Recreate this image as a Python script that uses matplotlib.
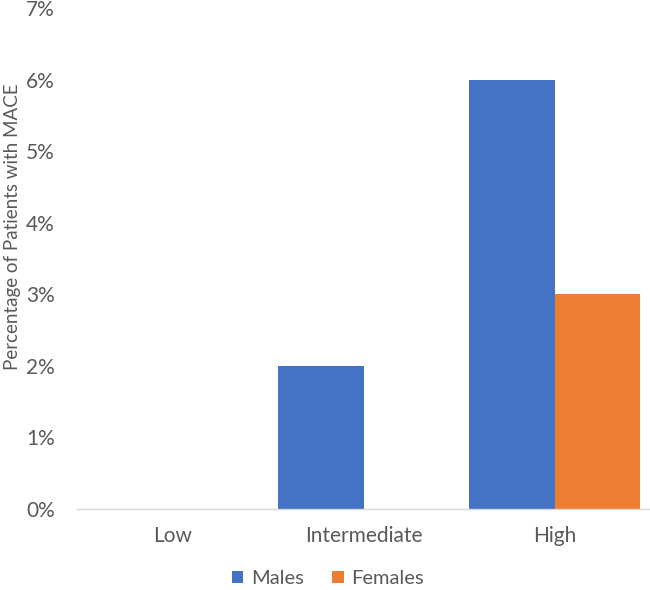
import numpy as np
import matplotlib
matplotlib.use('Agg')
import matplotlib.pyplot as plt
from matplotlib.ticker import FuncFormatter

# --- data ---
categories = ['Low', 'Intermediate', 'High']
males = [0.0, 2.0, 6.0]
females = [0.0, 0.0, 3.0]

plt.rcParams['font.family'] = ['Lato', 'DejaVu Sans']

fig = plt.figure(figsize=(6.5, 5.9), dpi=100)
ax = fig.add_axes([77/650, 81/590, 1 - 77/650, 501/590])

x = np.arange(len(categories))
w = 0.45
ax.bar(x - w/2, males, w, color='#4472C4', label='Males')
ax.bar(x + w/2, females, w, color='#ED7D31', label='Females')

ax.set_xlim(-0.5, 2.5)
ax.set_ylim(0, 7)
ax.set_yticks(range(0, 8))
ax.yaxis.set_major_formatter(FuncFormatter(lambda v, p: f'{v:.0f}%'))
ax.set_xticks(x)
ax.set_xticklabels(categories)

for s in ['top', 'right', 'left']:
    ax.spines[s].set_visible(False)
ax.spines['bottom'].set_color('#D9D9D9')
ax.spines['bottom'].set_linewidth(1)
ax.tick_params(axis='both', length=0, labelsize=15, colors='#595959')
ax.tick_params(axis='y', pad=16)
ax.tick_params(axis='x', pad=12)

fig.text(13/650, 1 - 227/590, 'Percentage of Patients with MACE', rotation=90,
         ha='center', va='center', fontsize=13.5, color='#595959')

leg = fig.legend(loc='center', bbox_to_anchor=(0.505, 1 - 579/590), ncol=2,
                 frameon=False, fontsize=14.5, handlelength=0.55, handleheight=0.55,
                 columnspacing=1.4, handletextpad=0.4)
for t in leg.get_texts():
    t.set_color('#595959')

fig.savefig('out.png', dpi=100)
